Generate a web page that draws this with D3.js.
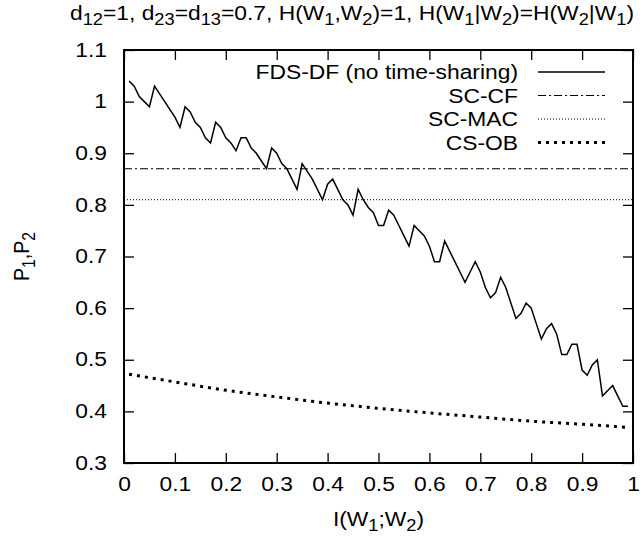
<!DOCTYPE html>
<html><head><meta charset="utf-8">
<script src="https://cdn.jsdelivr.net/npm/d3@7"></script>
<style>body{margin:0;background:#fff}svg{display:block}text{font-family:"Liberation Sans",Arial,Helvetica,sans-serif;fill:#000}</style>
</head><body><svg id="c" width="644" height="540"></svg>
<script>
// ---- data ----
const xTicks = [0, 0.1, 0.2, 0.3, 0.4, 0.5, 0.6, 0.7, 0.8, 0.9, 1];
const yTicks = [0.3, 0.4, 0.5, 0.6, 0.7, 0.8, 0.9, 1, 1.1];
const fdsX = [0.01,0.02,0.03,0.04,0.05,0.06,0.07,0.08,0.09,0.10,0.11,0.12,0.13,0.14,0.15,0.16,0.17,0.18,0.19,0.20,
  0.21,0.22,0.23,0.24,0.25,0.26,0.27,0.28,0.29,0.30,0.31,0.32,0.33,0.34,0.35,0.36,0.37,0.38,0.39,0.40,
  0.41,0.42,0.43,0.44,0.45,0.46,0.47,0.48,0.49,0.50,0.51,0.52,0.53,0.54,0.55,0.56,0.57,0.58,0.59,0.60,
  0.61,0.62,0.63,0.64,0.65,0.66,0.67,0.68,0.69,0.70,0.71,0.72,0.73,0.74,0.75,0.76,0.77,0.78,0.79,0.80,
  0.81,0.82,0.83,0.84,0.85,0.86,0.87,0.88,0.89,0.90,0.91,0.92,0.93,0.94,0.95,0.96,0.97,0.98,0.99];
const fdsY = [1.04,1.03,1.01,1.00,0.99,1.03,1.015,1.00,0.985,0.97,0.95,0.99,0.98,0.96,0.95,0.93,0.92,0.96,0.95,0.93,
  0.92,0.905,0.93,0.93,0.91,0.90,0.885,0.87,0.91,0.90,0.88,0.87,0.85,0.83,0.88,0.865,0.85,0.83,0.81,0.84,
  0.85,0.83,0.81,0.80,0.78,0.83,0.81,0.795,0.785,0.76,0.76,0.79,0.78,0.76,0.74,0.72,0.76,0.75,0.74,0.72,
  0.69,0.69,0.73,0.71,0.69,0.67,0.65,0.67,0.69,0.67,0.64,0.62,0.63,0.66,0.64,0.61,0.58,0.59,0.61,0.60,
  0.57,0.54,0.56,0.57,0.55,0.51,0.51,0.53,0.53,0.48,0.47,0.49,0.50,0.43,0.44,0.45,0.43,0.41,0.41];
const csobX = [0.01,0.1,0.2,0.3,0.4,0.5,0.6,0.7,0.8,0.9,0.99];
const csobY = [0.472,0.457,0.441,0.428,0.416,0.406,0.397,0.389,0.381,0.375,0.369];
const scCF = 0.87;
const scMAC = 0.81;
const legendLabels = ["FDS-DF (no time-sharing)", "SC-CF", "SC-MAC", "CS-OB"];

// ---- layout ----
const svg = d3.select("#c");
const L = 124, R = 633, T = 50, B = 463;
const FS = 19.5, SX = 1.17;
const x = d3.scaleLinear().domain([0, 1]).range([L, R]);
const y = d3.scaleLinear().domain([0.3, 1.1]).range([B, T]);

// rich text helper (segments: [text, isSub])
function rich(g, segs, size) {
  const t = g.append("text").attr("font-size", size);
  let sub = false;
  segs.forEach(([s, isSub]) => {
    const ts = t.append("tspan").text(s);
    if (isSub && !sub) { ts.attr("dy", 5).attr("font-size", size * 0.8); }
    else if (isSub) { ts.attr("font-size", size * 0.8); }
    else if (!isSub && sub) { ts.attr("dy", -5); }
    sub = isSub;
  });
  return t;
}

// axes (inward ticks, mirrored)
const fmt = d3.format("~g");
const gx = svg.append("g").attr("transform", `translate(0,${B})`)
  .call(d3.axisBottom(x).tickValues(xTicks).tickSize(-10).tickPadding(14).tickFormat(fmt));
const gxt = svg.append("g").attr("transform", `translate(0,${T})`)
  .call(d3.axisTop(x).tickValues(xTicks).tickSize(-10).tickFormat(""));
const gy = svg.append("g").attr("transform", `translate(${L},0)`)
  .call(d3.axisLeft(y).tickValues(yTicks).tickSize(-10).tickPadding(17).tickFormat(fmt));
const gyr = svg.append("g").attr("transform", `translate(${R},0)`)
  .call(d3.axisRight(y).tickValues(yTicks).tickSize(-10).tickFormat(""));
[gx, gxt, gy, gyr].forEach(g => {
  g.select(".domain").remove();
  g.selectAll(".tick line").attr("stroke", "#000").attr("stroke-width", 1.3);
  g.selectAll("text").attr("font-size", FS).attr("font-family", null).attr("fill", "#000");
});
gx.selectAll("text").attr("transform", `scale(${SX},1)`).attr("dy", "0.71em");
gy.selectAll("text").each(function () {
  const el = d3.select(this);
  el.attr("x", +el.attr("x") / SX).attr("transform", `scale(${SX},1)`);
});

// frame
svg.append("rect").attr("x", L).attr("y", T).attr("width", R - L).attr("height", B - T)
  .attr("fill", "none").attr("stroke", "#000").attr("stroke-width", 2);

// series
const styles = [
  { w: 1.5, dash: null },
  { w: 1, dash: "8,3,2,3" },
  { w: 1, dash: "1,2" },
  { w: 3, dash: "3,5" }
];
const line = d3.line().x(d => x(d[0])).y(d => y(d[1]));
svg.append("path").datum(fdsX.map((v, i) => [v, fdsY[i]]))
  .attr("d", line).attr("fill", "none").attr("stroke", "#000").attr("stroke-width", styles[0].w)
  .attr("stroke-linejoin", "miter");
svg.append("path").datum([[0, scCF], [1, scCF]]).attr("d", line).attr("fill", "none")
  .attr("stroke", "#000").attr("stroke-width", styles[1].w).attr("stroke-dasharray", styles[1].dash);
svg.append("path").datum([[0, scMAC], [1, scMAC]]).attr("d", line).attr("fill", "none")
  .attr("stroke", "#000").attr("stroke-width", styles[2].w).attr("stroke-dasharray", styles[2].dash);
svg.append("path").datum(csobX.map((v, i) => [v, csobY[i]]))
  .attr("d", d3.line().x(d => x(d[0])).y(d => y(d[1])).curve(d3.curveMonotoneX))
  .attr("fill", "none").attr("stroke", "#000").attr("stroke-width", styles[3].w)
  .attr("stroke-dasharray", styles[3].dash);

// legend
const legY0 = 72, legDY = 23.5, legTextR = 518, legL1 = 538, legL2 = 605;
legendLabels.forEach((lab, i) => {
  const yy = legY0 + i * legDY;
  svg.append("text").attr("transform", `translate(${legTextR},${yy + 7}) scale(${SX},1)`)
    .attr("text-anchor", "end").attr("font-size", FS).text(lab);
  svg.append("line").attr("x1", legL1).attr("x2", legL2).attr("y1", yy).attr("y2", yy)
    .attr("stroke", "#000").attr("stroke-width", styles[i].w)
    .attr("stroke-dasharray", styles[i].dash);
});

// title
const tg = svg.append("g").attr("transform", `translate(70,20) scale(${SX},1)`);
rich(tg, [["d",0],["12",1],["=1, d",0],["23",1],["=d",0],["13",1],["=0.7, H(W",0],["1",1],[",W",0],["2",1],
  [")=1, H(W",0],["1",1],["|W",0],["2",1],[")=H(W",0],["2",1],["|W",0],["1",1],[")",0]], FS);

// x label
const xg = svg.append("g").attr("transform", `translate(${(L + R) / 2},526) scale(${SX},1)`);
rich(xg, [["I(W",0],["1",1],[";W",0],["2",1],[")",0]], FS).attr("text-anchor", "middle");

// y label
const yg = svg.append("g").attr("transform", `translate(29,${(T + B) / 2}) rotate(-90) scale(1,${SX})`);
rich(yg, [["P",0],["1",1],[",P",0],["2",1]], FS).attr("text-anchor", "middle");
</script></body></html>
